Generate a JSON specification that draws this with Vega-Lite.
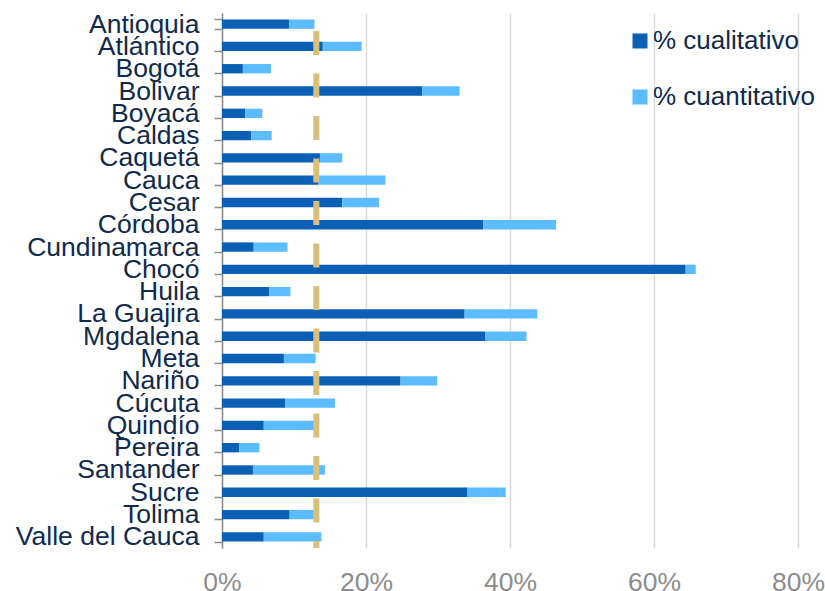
{
  "$schema": "https://vega.github.io/schema/vega-lite/v6.json",
  "width": 576,
  "height": 535,
  "autosize": "none",
  "padding": {"left": 222, "top": 13, "right": 27, "bottom": 43},
  "background": "white",
  "config": {
    "view": {"stroke": null},
    "font": "Liberation Sans"
  },
  "layer": [
    {
      "data": {
        "values": [
          {"region": "Antioquia", "cualitativo": 9.3, "cuantitativo": 3.55},
          {"region": "Atlántico", "cualitativo": 14.0, "cuantitativo": 5.4},
          {"region": "Bogotá", "cualitativo": 2.9, "cuantitativo": 3.9},
          {"region": "Bolivar", "cualitativo": 27.8, "cuantitativo": 5.2},
          {"region": "Boyacá", "cualitativo": 3.2, "cuantitativo": 2.4},
          {"region": "Caldas", "cualitativo": 4.05, "cuantitativo": 2.85},
          {"region": "Caquetá", "cualitativo": 13.6, "cuantitativo": 3.1},
          {"region": "Cauca", "cualitativo": 13.4, "cuantitativo": 9.3},
          {"region": "Cesar", "cualitativo": 16.7, "cuantitativo": 5.1},
          {"region": "Córdoba", "cualitativo": 36.3, "cuantitativo": 10.1},
          {"region": "Cundinamarca", "cualitativo": 4.4, "cuantitativo": 4.7},
          {"region": "Chocó", "cualitativo": 64.4, "cuantitativo": 1.4},
          {"region": "Huila", "cualitativo": 6.55, "cuantitativo": 2.95},
          {"region": "La Guajira", "cualitativo": 33.7, "cuantitativo": 10.1},
          {"region": "Mgdalena", "cualitativo": 36.6, "cuantitativo": 5.7},
          {"region": "Meta", "cualitativo": 8.6, "cuantitativo": 4.4},
          {"region": "Nariño", "cualitativo": 24.8, "cuantitativo": 5.1},
          {"region": "Cúcuta", "cualitativo": 8.8, "cuantitativo": 6.9},
          {"region": "Quindío", "cualitativo": 5.8, "cuantitativo": 6.95},
          {"region": "Pereira", "cualitativo": 2.4, "cuantitativo": 2.8},
          {"region": "Santander", "cualitativo": 4.3, "cuantitativo": 10.0},
          {"region": "Sucre", "cualitativo": 34.1, "cuantitativo": 5.3},
          {"region": "Tolima", "cualitativo": 9.4, "cuantitativo": 3.35},
          {"region": "Valle del Cauca", "cualitativo": 5.8, "cuantitativo": 8.0}
        ]
      },
      "transform": [
        {"fold": ["cualitativo", "cuantitativo"], "as": ["tipo", "valor"]},
        {"calculate": "'% ' + datum.tipo", "as": "serie"}
      ],
      "mark": {"type": "bar"},
      "encoding": {
        "y": {
          "field": "region",
          "type": "nominal",
          "sort": null,
          "scale": {"paddingInner": 0.58, "paddingOuter": 0.29},
          "axis": {
            "title": null,
            "tickBand": "extent",
            "domainColor": "#8c8c8c",
            "domainWidth": 1.5,
            "tickColor": "#8c8c8c",
            "tickWidth": 1.5,
            "tickSize": 8,
            "labelFontSize": 26.5,
            "labelColor": "#0f2a4c",
            "labelPadding": 15,
            "labelLimit": 400,
            "labelOverlap": false,
            "labelBound": false
          }
        },
        "x": {
          "field": "valor",
          "type": "quantitative",
          "stack": "zero",
          "scale": {"domain": [0, 80], "nice": false},
          "axis": {
            "title": null,
            "values": [0, 20, 40, 60, 80],
            "labelExpr": "datum.value + '%'",
            "domain": false,
            "ticks": false,
            "tickSize": 0,
            "grid": true,
            "gridColor": "#d9d9d9",
            "gridWidth": 1.5,
            "labelFontSize": 26.5,
            "labelColor": "#8c8c8c",
            "labelPadding": 21,
            "labelFlush": false,
            "labelOverlap": false
          }
        },
        "color": {
          "field": "serie",
          "type": "nominal",
          "scale": {
            "domain": ["% cualitativo", "% cuantitativo"],
            "range": ["#0b5fb5", "#5bbdff"]
          },
          "legend": {
            "title": null,
            "orient": "none",
            "legendX": 405,
            "legendY": 15,
            "symbolType": "square",
            "symbolSize": 225,
            "symbolStrokeWidth": 0,
            "labelFontSize": 26,
            "labelColor": "#0f2a4c",
            "labelOffset": 0,
            "labelLimit": 400,
            "rowPadding": 30
          }
        },
        "order": {"field": "tipo", "type": "nominal"}
      }
    },
    {
      "data": {"values": [{"promedio": 13.1}]},
      "mark": {
        "type": "rule",
        "color": "#d9bf77",
        "strokeWidth": 6,
        "strokeDash": [24, 18.5],
        "strokeDashOffset": 24.5
      },
      "encoding": {
        "x": {"field": "promedio", "type": "quantitative"}
      }
    }
  ]
}
